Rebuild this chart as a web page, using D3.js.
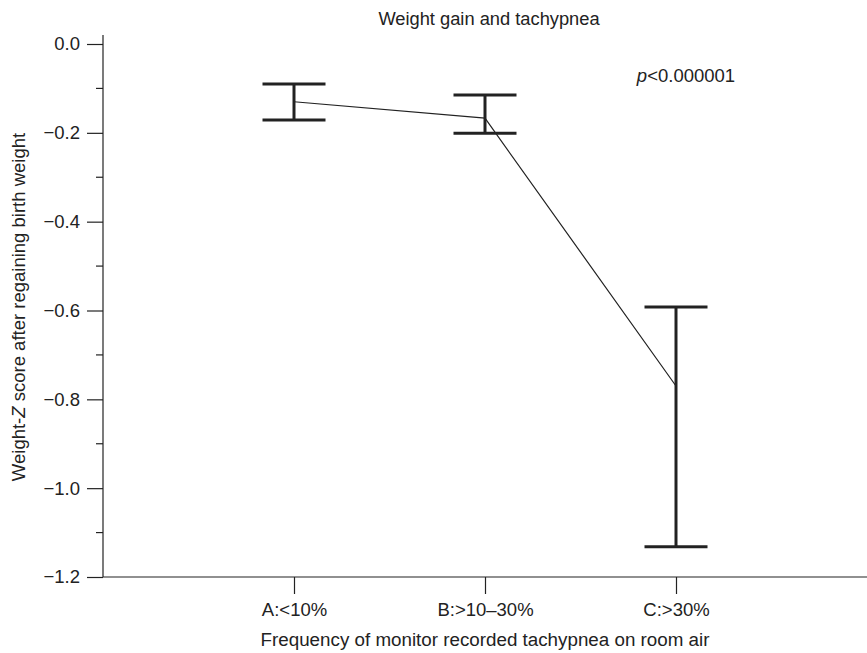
<!DOCTYPE html>
<html>
<head>
<meta charset="utf-8">
<script src="https://cdn.jsdelivr.net/npm/d3@7"></script>
<style>
  body { margin: 0; background: #fff; }
  text { font-family: "Liberation Sans", Arial, sans-serif; fill: #222; }
</style>
</head>
<body>
<svg id="chart" width="867" height="653"></svg>
<script>
var categories = ["A:<10%", "B:>10\u201330%", "C:>30%"];
var means = [-0.13, -0.167, -0.77];
var upper = [-0.09, -0.115, -0.592];
var lower = [-0.171, -0.201, -1.132];
var yTicks = [0.0, -0.2, -0.4, -0.6, -0.8, -1.0, -1.2];
var yMinorTicks = [-0.1, -0.3, -0.5, -0.7, -0.9, -1.1];

var svg = d3.select('#chart');

var x = d3.scaleLinear().domain([0, 4]).range([103, 867]);
var y = d3.scaleLinear().domain([0, -1.2]).range([44, 577]);

var ink = "#222";

// y axis
var yAxis = d3.axisLeft(y)
    .tickValues(yTicks)
    .tickSize(16)
    .tickPadding(7)
    .tickFormat(function(d) { return d3.format(".1f")(d).replace("-", "\u2212"); });

var gy = svg.append("g").attr("transform", "translate(103,0)").call(yAxis);
gy.select(".domain").remove();
gy.selectAll("line").attr("stroke", ink).attr("stroke-width", 1.2);
gy.selectAll("text").style("font-size", "18.5px").attr("fill", ink);

svg.append("line")
    .attr("x1", 103).attr("x2", 103)
    .attr("y1", 35).attr("y2", 577)
    .attr("stroke", ink).attr("stroke-width", 1.2);

svg.selectAll(".minor").data(yMinorTicks).enter().append("line")
    .attr("class", "minor")
    .attr("x1", 96).attr("x2", 103)
    .attr("y1", function(d) { return y(d); })
    .attr("y2", function(d) { return y(d); })
    .attr("stroke", ink).attr("stroke-width", 1.2);

// x axis
var xAxis = d3.axisBottom(x)
    .tickValues([1, 2, 3])
    .tickSize(17)
    .tickPadding(9)
    .tickFormat(function(d) { return categories[d - 1]; });

var gx = svg.append("g").attr("transform", "translate(0,577)").call(xAxis);
gx.select(".domain").remove();
gx.selectAll("line").attr("stroke", ink).attr("stroke-width", 1.2);
gx.selectAll("text").style("font-size", "18.5px").attr("fill", ink);

svg.append("line")
    .attr("x1", 103).attr("x2", 867)
    .attr("y1", 577).attr("y2", 577)
    .attr("stroke", ink).attr("stroke-width", 1.2);

// connecting line through means
var line = d3.line()
    .x(function(d, i) { return x(i + 1); })
    .y(function(d) { return y(d); });

svg.append("path")
    .datum(means)
    .attr("d", line)
    .attr("fill", "none")
    .attr("stroke", ink)
    .attr("stroke-width", 1.2);

// error bars
var bars = svg.selectAll(".err").data(means).enter().append("g").attr("class", "err");

bars.append("line")
    .attr("x1", function(d, i) { return x(i + 1); })
    .attr("x2", function(d, i) { return x(i + 1); })
    .attr("y1", function(d, i) { return y(upper[i]); })
    .attr("y2", function(d, i) { return y(lower[i]); })
    .attr("stroke", ink).attr("stroke-width", 3);

bars.append("line")
    .attr("x1", function(d, i) { return x(i + 1) - 31.5; })
    .attr("x2", function(d, i) { return x(i + 1) + 31.5; })
    .attr("y1", function(d, i) { return y(upper[i]); })
    .attr("y2", function(d, i) { return y(upper[i]); })
    .attr("stroke", ink).attr("stroke-width", 3);

bars.append("line")
    .attr("x1", function(d, i) { return x(i + 1) - 31.5; })
    .attr("x2", function(d, i) { return x(i + 1) + 31.5; })
    .attr("y1", function(d, i) { return y(lower[i]); })
    .attr("y2", function(d, i) { return y(lower[i]); })
    .attr("stroke", ink).attr("stroke-width", 3);

// texts
svg.append("text")
    .attr("x", 489).attr("y", 25)
    .attr("text-anchor", "middle")
    .style("font-size", "18.3px")
    .text("Weight gain and tachypnea");

var p = svg.append("text")
    .attr("x", 686).attr("y", 82)
    .attr("text-anchor", "middle")
    .style("font-size", "18.5px");
p.append("tspan").style("font-style", "italic").text("p");
p.append("tspan").text("<0.000001");

svg.append("text")
    .attr("x", 485).attr("y", 646)
    .attr("text-anchor", "middle")
    .style("font-size", "18.8px")
    .text("Frequency of monitor recorded tachypnea on room air");

var yl = svg.append("text")
    .attr("transform", "translate(25,307) rotate(-90)")
    .attr("text-anchor", "middle")
    .style("font-size", "18.5px");
yl.append("tspan").text("Weight-");
yl.append("tspan").style("font-style", "italic").text("Z");
yl.append("tspan").text(" score after regaining birth weight");
</script>
</body>
</html>
